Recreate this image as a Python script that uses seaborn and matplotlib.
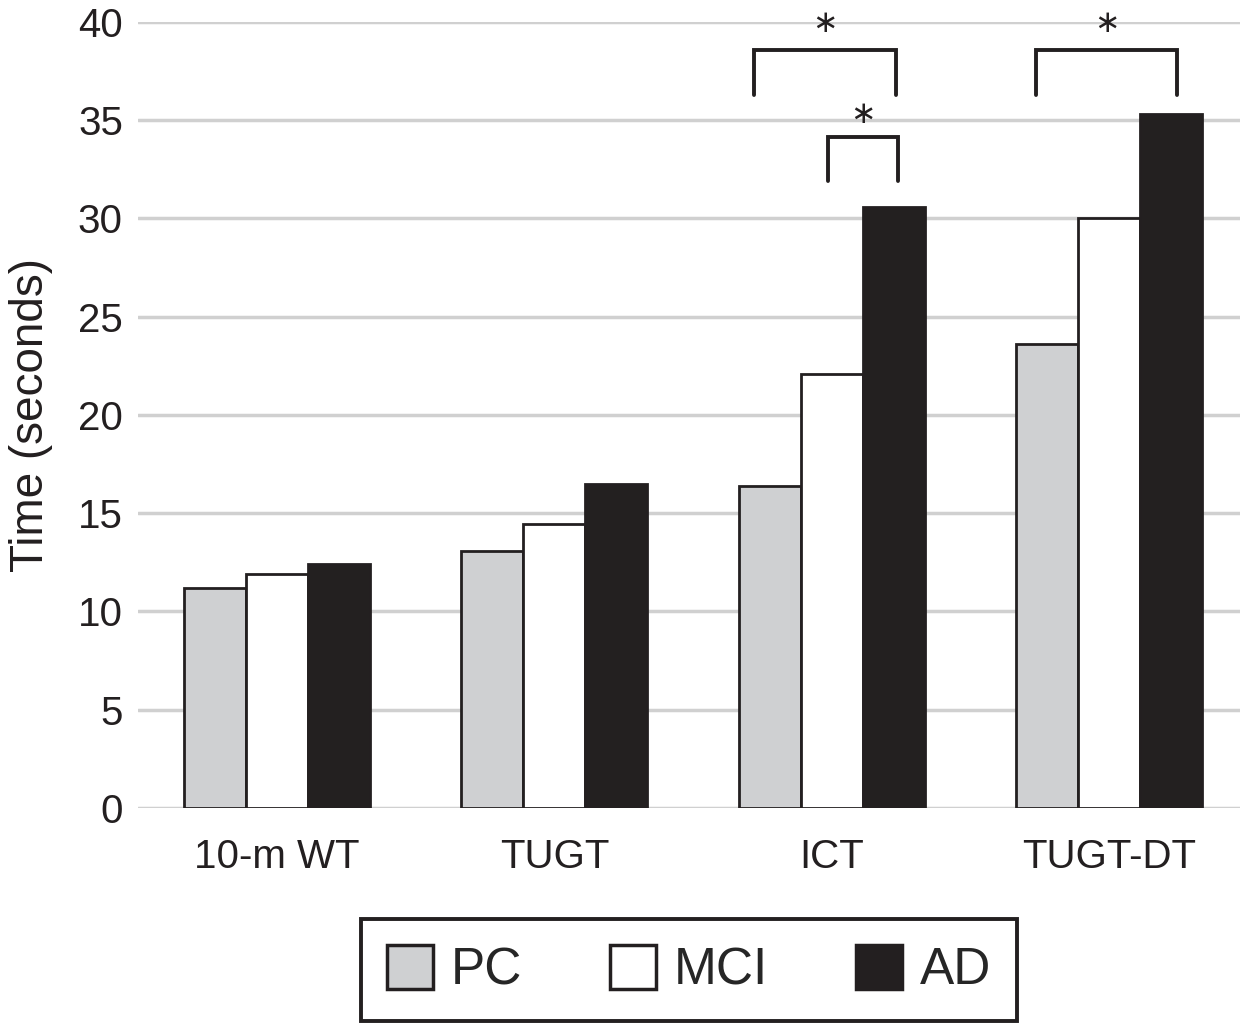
import pandas as pd
import matplotlib
matplotlib.use("Agg")
import matplotlib.pyplot as plt
import matplotlib.patches as mpatches
import seaborn as sns

# --- Data ---
TESTS = ["10-m WT", "TUGT", "ICT", "TUGT-DT"]
GROUPS = ["PC", "MCI", "AD"]
PC_VALS = [11.2, 13.1, 16.4, 23.6]
MCI_VALS = [11.9, 14.45, 22.1, 30.0]
AD_VALS = [12.4, 16.5, 30.6, 35.3]
COLORS = {"PC": "#cfd0d2", "MCI": "#ffffff", "AD": "#231f20"}

# significance brackets: (x_left, x_right, y_bottom, y_top, star_y)
BRACKETS = [
    (1.72, 2.23, 36.3, 38.6, 39.9),
    (1.985, 2.237, 31.9, 34.15, 35.3),
    (2.735, 3.245, 36.3, 38.6, 39.9),
]

rows = []
for i, t in enumerate(TESTS):
    for g, vals in zip(GROUPS, [PC_VALS, MCI_VALS, AD_VALS]):
        rows.append({"test": t, "group": g, "time": vals[i]})
df = pd.DataFrame(rows)

sns.set_style("white")
plt.rcParams["font.family"] = ["Liberation Sans", "DejaVu Sans"]

fig = plt.figure(figsize=(12.56, 10.24), dpi=100)
ax = fig.add_axes([0.110, 0.211, 0.877, 0.7675])

sns.barplot(data=df, x="test", y="time", hue="group", hue_order=GROUPS,
            palette=COLORS, width=0.67, edgecolor="#231f20", linewidth=2,
            errorbar=None, legend=False, ax=ax)

ax.set_ylim(0, 40)
ax.set_xlim(-0.5, 3.47)
ax.set_yticks(range(0, 41, 5))
ax.yaxis.grid(True, color="#d0d0d0", linewidth=2.5)
ax.set_axisbelow(True)
for s in ax.spines.values():
    s.set_visible(False)
ax.tick_params(axis="y", labelsize=29, pad=11, length=0, colors="#231f20")
ax.tick_params(axis="x", labelsize=29, pad=22, length=0, colors="#231f20")
ax.set_xlabel("")
ax.set_ylabel("Time (seconds)", fontsize=33, color="#231f20", labelpad=18)

for xl, xr, yb, yt, sy in BRACKETS:
    ax.plot([xl, xl, xr, xr], [yb, yt, yt, yb], color="#231f20", lw=2.8,
            clip_on=False, solid_joinstyle="miter")
    ax.text((xl + xr) / 2, sy, "\u2217", ha="center", va="center",
            fontsize=22, family="DejaVu Sans", color="#231f20", clip_on=False)

handles = [mpatches.Patch(facecolor=COLORS[g], edgecolor="#231f20",
                          linewidth=2.5, label=g) for g in GROUPS]
leg = fig.legend(handles=handles, loc="center", bbox_to_anchor=(0.5486, 0.0527),
                 ncol=3, fontsize=37, frameon=True, fancybox=False,
                 handlelength=0.9, handleheight=0.95,
                 handletextpad=0.35, columnspacing=1.7, borderpad=0.5)
frame = leg.get_frame()
frame.set_edgecolor("#231f20")
frame.set_alpha(1)
frame.set_linewidth(2.8)

fig.savefig("out.png", dpi=100)
